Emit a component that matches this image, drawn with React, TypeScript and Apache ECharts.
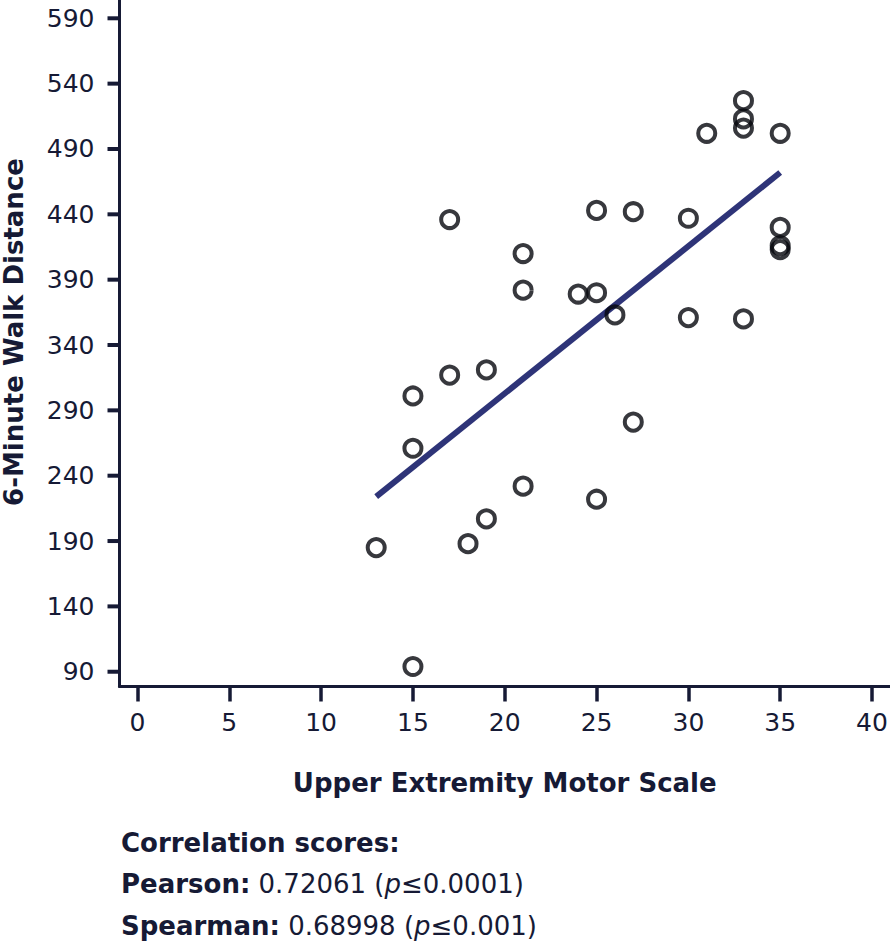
import React, { useEffect, useRef } from "react";
import * as echarts from "echarts";

const xValues = [13, 15, 15, 15, 17, 17, 18, 19, 19, 21, 21, 21, 24, 25, 25, 25, 26, 27, 27, 30, 30, 31, 33, 33, 33, 33, 35, 35, 35, 35];
const yValues = [185, 94, 261, 301, 436, 317, 188, 321, 207, 410, 382, 232, 379, 443, 380, 222, 363, 442, 281, 437, 361, 502, 527, 513, 506, 360, 502, 430, 416, 413];
const fitX = [13, 35];
const fitY = [224, 472];
const xTicks = [0, 5, 10, 15, 20, 25, 30, 35, 40];
const yTicks = [90, 140, 190, 240, 290, 340, 390, 440, 490, 540, 590];
const xTitle = "Upper Extremity Motor Scale";
const yTitle = "6-Minute Walk Distance";
const noteTitle = "Correlation scores:";
const pearson = ["Pearson:", "0.72061", "0.0001"];
const spearman = ["Spearman:", "0.68998", "0.001"];

const INK = "#161a35";
const FONT = "'DejaVu Sans', Verdana, sans-serif";
const X_MIN = -0.98;

export default function App() {
  const ref = useRef<HTMLDivElement>(null);
  useEffect(() => {
    if (!ref.current) return;
    const chart = echarts.init(ref.current, undefined, { renderer: "svg" });
    const rich = {
      b: { fontWeight: "bold", fontSize: 26, fontFamily: FONT, fill: INK, color: INK },
      n: { fontSize: 26, fontFamily: FONT, fill: INK, color: INK },
      i: { fontStyle: "italic", fontSize: 26, fontFamily: FONT, fill: INK, color: INK },
    };
    chart.setOption({
      animation: false,
      backgroundColor: "#ffffff",
      textStyle: { fontFamily: FONT, color: INK },
      grid: { left: 119.5, right: 0, top: 0, bottom: 261.5, containLabel: false, outerBoundsMode: "none" },
      xAxis: {
        type: "value",
        min: X_MIN,
        max: 40.98,
        axisLine: { show: true, onZero: false, lineStyle: { color: INK, width: 3 } },
        axisTick: { show: true, length: 15, customValues: xTicks, lineStyle: { color: INK, width: 3.5 } },
        axisLabel: { fontSize: 25, color: INK, margin: 23, fontFamily: FONT, customValues: xTicks, showMinLabel: true, showMaxLabel: true },
        splitLine: { show: false },
        name: xTitle,
        nameLocation: "middle",
        nameGap: 83,
        nameTextStyle: { fontSize: 26, fontWeight: "bold", color: INK, fontFamily: FONT },
      },
      yAxis: {
        type: "value",
        min: 78.7,
        max: 604,
        axisLine: { show: true, onZero: false, lineStyle: { color: INK, width: 3 } },
        axisTick: { show: false },
        axisLabel: { fontSize: 25, color: INK, margin: 25, fontFamily: FONT, customValues: yTicks, showMinLabel: true, showMaxLabel: true },
        splitLine: { show: false },
      },
      series: [
        {
          type: "line",
          data: fitX.map((x, i) => [x, fitY[i]]),
          symbol: "none",
          lineStyle: { color: "#2e3478", width: 6 },
          z: 1,
        },
        {
          type: "scatter",
          data: xValues.map((x, i) => [x, yValues[i]]),
          symbol: "circle",
          symbolSize: 17,
          itemStyle: { color: "rgba(255,255,255,0)", borderColor: "#05060d", borderWidth: 4 },
          z: 3,
        },
      ],
    });

    const toPx = (x: number, y: number): number[] => {
      let p: any = chart.convertToPixel({ gridIndex: 0 }, [x, y]);
      if (!Array.isArray(p) || isNaN(p[0]) || isNaN(p[1])) {
        p = chart.convertToPixel({ seriesIndex: 0 }, [x, y]);
      }
      return p as number[];
    };

    const tickMarks = yTicks.map((v) => {
      const p = toPx(X_MIN, v);
      return {
        type: "line",
        shape: { x1: p[0] - 12, y1: p[1], x2: p[0], y2: p[1] },
        style: { stroke: INK, lineWidth: 4 },
        z: 10,
      };
    });

    chart.setOption({
      graphic: [
        ...tickMarks,
        {
          type: "text",
          x: 13.5,
          y: 332,
          rotation: Math.PI / 2,
          style: {
            text: yTitle,
            fontSize: 26,
            fontWeight: "bold",
            fontFamily: FONT,
            fill: INK,
            align: "center",
            verticalAlign: "middle",
          },
        },
        {
          type: "text",
          x: 121,
          y: 843,
          style: { text: "{b|" + noteTitle + "}", rich, verticalAlign: "middle", align: "left" },
        },
        {
          type: "text",
          x: 121,
          y: 884,
          style: {
            text: "{b|" + pearson[0] + "}{n| " + pearson[1] + " (}{i|p}{n|≤" + pearson[2] + ")}",
            rich,
            verticalAlign: "middle",
            align: "left",
          },
        },
        {
          type: "text",
          x: 121,
          y: 926,
          style: {
            text: "{b|" + spearman[0] + "}{n| " + spearman[1] + " (}{i|p}{n|≤" + spearman[2] + ")}",
            rich,
            verticalAlign: "middle",
            align: "left",
          },
        },
      ],
    });
    return () => chart.dispose();
  }, []);
  return <div ref={ref} style={{ width: 890, height: 948, position: "absolute", left: 0, top: 0 }} />;
}
